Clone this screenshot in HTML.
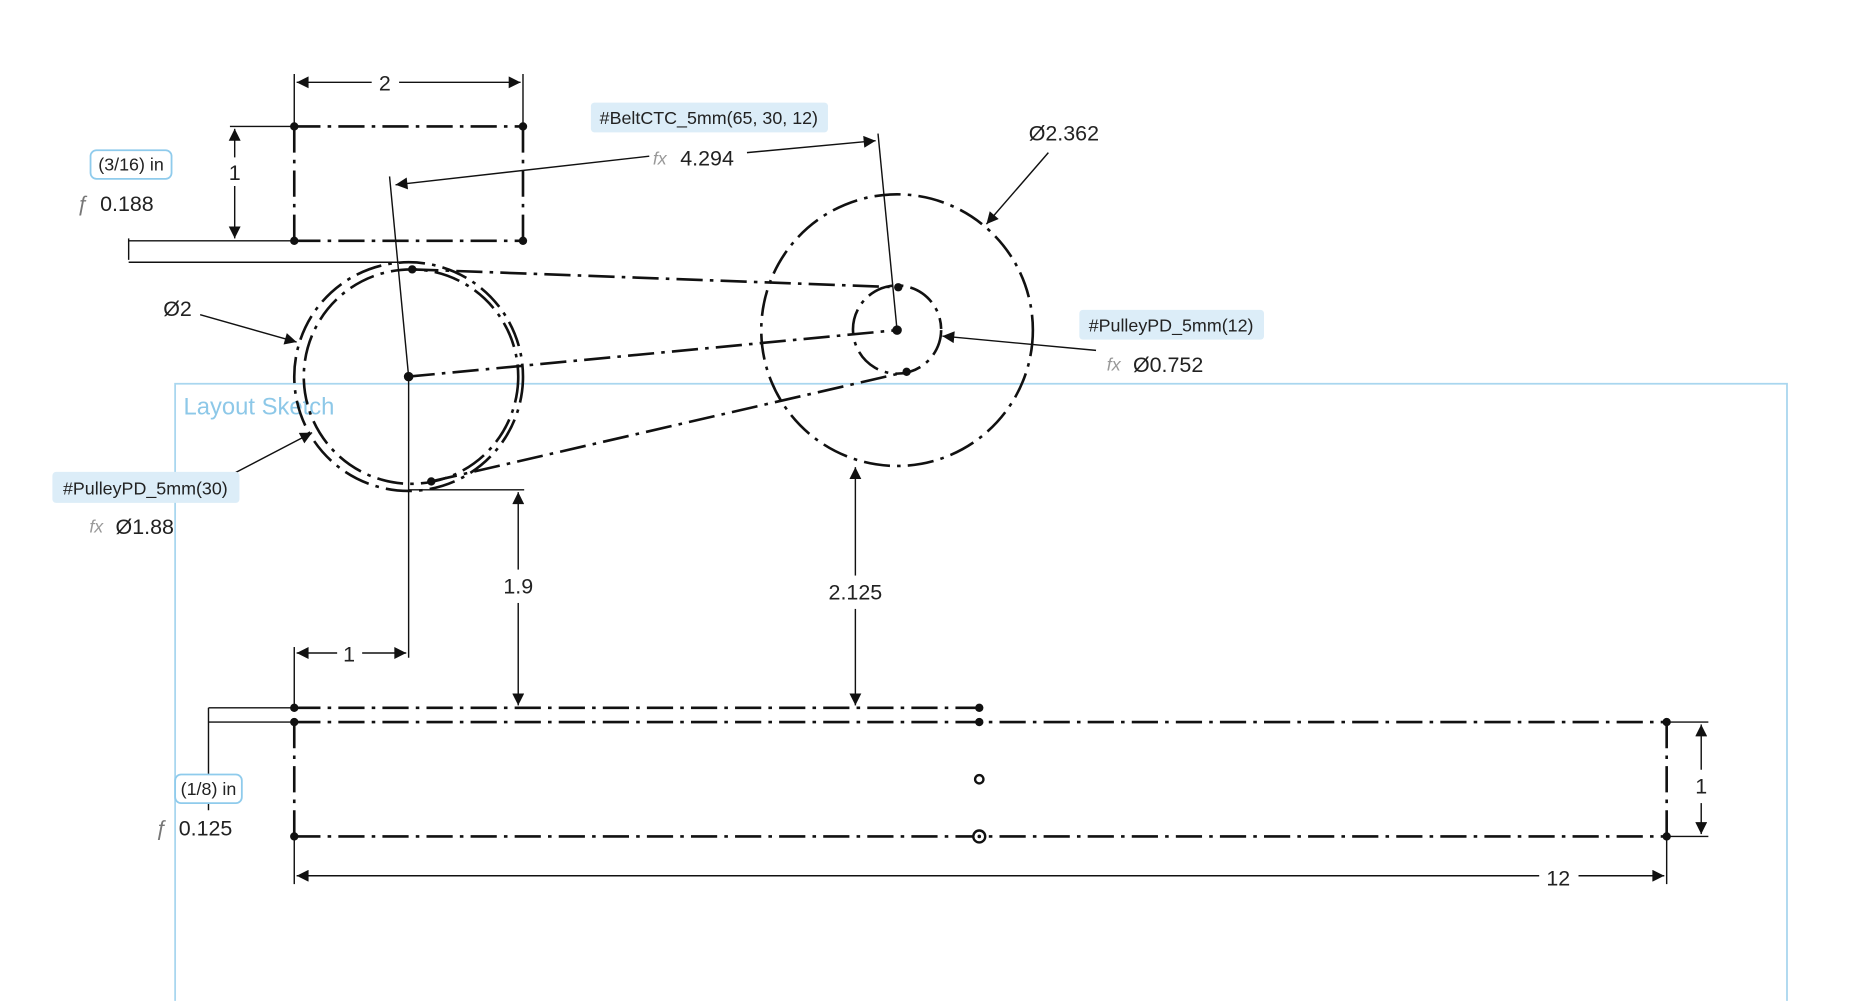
<!DOCTYPE html>
<html><head><meta charset="utf-8"><style>
html,body{margin:0;padding:0;background:#fff;}
svg{display:block}
text{font-family:"Liberation Sans",sans-serif;fill:#222}
</style></head><body>
<svg width="1868" height="1001" viewBox="0 0 1568 840" xmlns="http://www.w3.org/2000/svg">
<defs>
<marker id="a" viewBox="0 0 10 10" refX="10" refY="5" markerWidth="14" markerHeight="10" markerUnits="userSpaceOnUse" orient="auto-start-reverse"><path d="M0,0 L10,5 L0,10 z" fill="#111"/></marker>
</defs>
<path d="M147,840 V322 H1500 V840" fill="none" stroke="#a9d6ef" stroke-width="1.5"/>
<text x="154" y="348" font-size="20" style="fill:#8dc8e8">Layout Sketch</text>

<g fill="none" stroke="#111" stroke-width="2.2" stroke-dasharray="22 6 3 6">
<line x1="247" y1="106" x2="439" y2="106"/>
<line x1="247" y1="202" x2="439" y2="202"/>
<line x1="247" y1="106" x2="247" y2="202"/>
<line x1="439" y1="106" x2="439" y2="202"/>
<circle cx="343" cy="316" r="96"/>
<circle cx="345" cy="316" r="90"/>
<circle cx="753" cy="277" r="114"/>
<path d="M790,277 A37,37 0 1 1 790,276"/>
<line x1="346" y1="226" x2="754" y2="241"/>
<line x1="343" y1="316" x2="753" y2="277"/>
<line x1="362" y1="404" x2="761" y2="312"/>
<line x1="247" y1="594" x2="822" y2="594"/>
<line x1="247" y1="606" x2="1399" y2="606"/>
<line x1="247" y1="702" x2="1399" y2="702"/>
<line x1="247" y1="606" x2="247" y2="702"/>
<line x1="1399" y1="606" x2="1399" y2="702"/>
</g>
<g fill="#111">
<circle cx="247" cy="106" r="3.5"/><circle cx="439" cy="106" r="3.5"/><circle cx="247" cy="202" r="3.5"/><circle cx="439" cy="202" r="3.5"/>
<circle cx="343" cy="316" r="4"/><circle cx="346" cy="226" r="3.5"/><circle cx="362" cy="404" r="3.5"/>
<circle cx="754" cy="241" r="3.5"/><circle cx="753" cy="277" r="4"/><circle cx="761" cy="312" r="3.5"/>
<circle cx="247" cy="594" r="3.5"/><circle cx="822" cy="594" r="3.5"/>
<circle cx="247" cy="606" r="3.5"/><circle cx="822" cy="606" r="3.5"/><circle cx="1399" cy="606" r="3.5"/>
<circle cx="247" cy="702" r="3.5"/><circle cx="1399" cy="702" r="3.5"/>
</g>
<circle cx="822" cy="654" r="3.5" fill="#fff" stroke="#111" stroke-width="2"/>
<circle cx="822" cy="702" r="5" fill="#fff" stroke="#111" stroke-width="2"/>
<circle cx="822" cy="702" r="1.5" fill="#111"/>

<g fill="none" stroke="#111" stroke-width="1.2">
<line x1="247" y1="62" x2="247" y2="106"/><line x1="439" y1="62" x2="439" y2="106"/>
<line x1="312" y1="69" x2="249" y2="69" marker-end="url(#a)"/><line x1="335" y1="69" x2="437" y2="69" marker-end="url(#a)"/>
<line x1="193" y1="106" x2="247" y2="106"/>
<line x1="197" y1="132" x2="197" y2="108" marker-end="url(#a)"/><line x1="197" y1="156" x2="197" y2="200" marker-end="url(#a)"/>
<line x1="108" y1="202" x2="247" y2="202"/><line x1="108" y1="220" x2="335" y2="220"/>
<line x1="108" y1="200" x2="108" y2="218"/>
<line x1="327" y1="148" x2="343" y2="316"/><line x1="737" y1="112" x2="753" y2="277"/>
<line x1="545" y1="131" x2="332" y2="155" marker-end="url(#a)"/><line x1="627" y1="128" x2="735" y2="118" marker-end="url(#a)"/>
<line x1="880" y1="128" x2="828" y2="188" marker-end="url(#a)"/>
<line x1="920" y1="294" x2="791" y2="282" marker-end="url(#a)"/>
<line x1="168" y1="264" x2="249" y2="287" marker-end="url(#a)"/>
<line x1="195" y1="398" x2="262" y2="363" marker-end="url(#a)"/>
<line x1="343" y1="411" x2="440" y2="411"/>
<line x1="435" y1="478" x2="435" y2="413" marker-end="url(#a)"/><line x1="435" y1="506" x2="435" y2="592" marker-end="url(#a)"/>
<line x1="718" y1="483" x2="718" y2="392" marker-end="url(#a)"/><line x1="718" y1="511" x2="718" y2="592" marker-end="url(#a)"/>
<line x1="343" y1="316" x2="343" y2="552"/><line x1="247" y1="543" x2="247" y2="594"/>
<line x1="283" y1="548" x2="249" y2="548" marker-end="url(#a)"/><line x1="304" y1="548" x2="341" y2="548" marker-end="url(#a)"/>
<line x1="175" y1="594" x2="247" y2="594"/><line x1="175" y1="606" x2="247" y2="606"/>
<line x1="175" y1="594" x2="175" y2="650"/><line x1="175" y1="674" x2="175" y2="680"/>
<line x1="1399" y1="606" x2="1434" y2="606"/><line x1="1399" y1="702" x2="1434" y2="702"/>
<line x1="1428" y1="646" x2="1428" y2="608" marker-end="url(#a)"/><line x1="1428" y1="674" x2="1428" y2="700" marker-end="url(#a)"/>
<line x1="247" y1="702" x2="247" y2="742"/><line x1="1399" y1="702" x2="1399" y2="742"/>
<line x1="1292" y1="735" x2="249" y2="735" marker-end="url(#a)"/><line x1="1325" y1="735" x2="1397" y2="735" marker-end="url(#a)"/>
</g>

<rect x="496" y="86" width="199" height="25" rx="3" fill="#dcedf8"/>
<text x="595" y="104" font-size="15" text-anchor="middle">#BeltCTC_5mm(65, 30, 12)</text>
<rect x="906" y="260" width="155" height="25" rx="3" fill="#dcedf8"/>
<text x="983" y="278" font-size="15" text-anchor="middle">#PulleyPD_5mm(12)</text>
<rect x="44" y="396" width="157" height="26" rx="3" fill="#dcedf8"/>
<text x="122" y="415" font-size="15" text-anchor="middle">#PulleyPD_5mm(30)</text>
<rect x="76" y="126" width="68" height="24" rx="5" fill="#fff" stroke="#8fcbec" stroke-width="1.5"/>
<text x="110" y="143" font-size="15" text-anchor="middle">(3/16) in</text>
<rect x="147" y="650" width="56" height="24" rx="5" fill="#fff" stroke="#8fcbec" stroke-width="1.5"/>
<text x="175" y="667" font-size="15" text-anchor="middle">(1/8) in</text>

<g font-size="18">
<text x="323" y="76" text-anchor="middle">2</text>
<text x="197" y="151" text-anchor="middle">1</text>
<text x="64" y="177" font-style="italic" style="fill:#777">ƒ</text><text x="84" y="177">0.188</text>
<text x="548" y="138" font-style="italic" font-size="15" style="fill:#999">fx</text><text x="571" y="139">4.294</text>
<text x="893" y="118" text-anchor="middle">Ø2.362</text>
<text x="929" y="311" font-style="italic" font-size="15" style="fill:#999">fx</text><text x="951" y="312">Ø0.752</text>
<text x="149" y="265" text-anchor="middle">Ø2</text>
<text x="75" y="447" font-style="italic" font-size="15" style="fill:#999">fx</text><text x="97" y="448">Ø1.88</text>
<text x="435" y="498" text-anchor="middle">1.9</text>
<text x="718" y="503" text-anchor="middle">2.125</text>
<text x="293" y="555" text-anchor="middle">1</text>
<text x="130" y="701" font-style="italic" style="fill:#777">ƒ</text><text x="150" y="701">0.125</text>
<text x="1428" y="666" text-anchor="middle">1</text>
<text x="1308" y="743" text-anchor="middle">12</text>
</g>
</svg>
</body></html>
